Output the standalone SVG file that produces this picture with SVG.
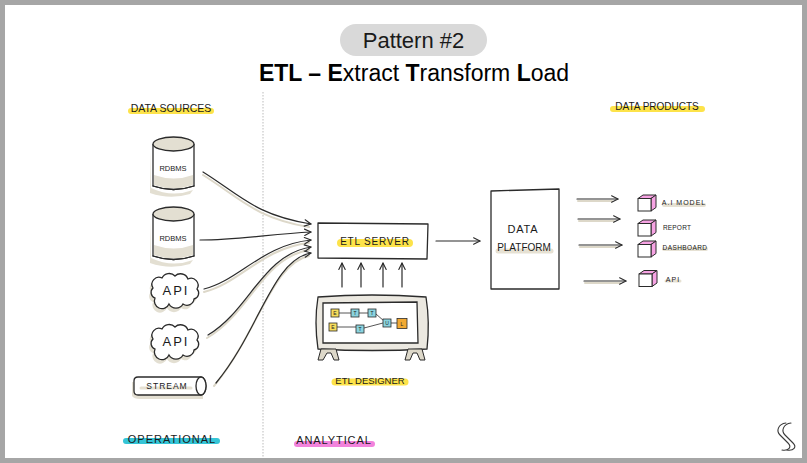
<svg xmlns="http://www.w3.org/2000/svg" width="807" height="463" viewBox="0 0 807 463">
  <style>
    .ink { fill: none; stroke: #2b2b2b; stroke-width: 1.3; stroke-linecap: round; stroke-linejoin: round; }
    .shade { fill: #e3dfd2; stroke: none; }
    .hand { font-family: "Liberation Sans", "DejaVu Sans", sans-serif; fill: #1a1a1a; text-anchor: middle; }
    .hl { fill: none; stroke-linecap: round; }
    .yellow { stroke: #fde34a; }
    .beige { stroke: #e6e1d3; }
    .conn { fill: none; stroke: #2b2b2b; stroke-width: 1.2; stroke-linecap: round; }
    .connshade { fill: none; stroke: #ddd8c9; stroke-width: 2; stroke-linecap: round; }
    .cubeface { fill: #f6a3e3; stroke: #2b2b2b; stroke-width: 1; stroke-linejoin: round; }
    .cubefront { fill: #ffffff; stroke: #2b2b2b; stroke-width: 1; }
    .snode { stroke: #2b2b2b; stroke-width: 0.8; }
    .slabel { font-family: "Liberation Sans", sans-serif; font-size: 5px; fill: #222; text-anchor: middle; }
  </style>
  <defs>
    <marker id="head" viewBox="0 0 10 10" refX="9" refY="5" markerWidth="8" markerHeight="8" markerUnits="userSpaceOnUse" orient="auto">
      <path d="M1,1 L9,5 L1,9" fill="none" stroke="#2b2b2b" stroke-width="1.4" stroke-linecap="round" stroke-linejoin="round"/>
    </marker>
  </defs>

  <!-- page frame -->
  <rect x="0" y="0" width="807" height="463" fill="#ffffff"/>
  <rect x="2.5" y="2.5" width="802" height="458" fill="none" stroke="#a6a6a6" stroke-width="5"/>

  <!-- heading -->
  <g id="heading">
    <rect x="340" y="24" width="147" height="32" rx="16" fill="#d9d9d9"/>
    <text x="413.5" y="48" font-family="Liberation Sans, sans-serif" font-size="22" fill="#1a1a1a" text-anchor="middle">Pattern #2</text>
    <text x="414" y="81" font-family="Liberation Sans, sans-serif" font-size="23" fill="#000" text-anchor="middle"><tspan font-weight="bold">ETL – E</tspan>xtract <tspan font-weight="bold">T</tspan>ransform <tspan font-weight="bold">L</tspan>oad</text>
  </g>

  <!-- divider between operational and analytical sides -->
  <line x1="263" y1="92" x2="263" y2="458" stroke="#d2d2d2" stroke-width="1.5" stroke-dasharray="1.5 1.5"/>

  <!-- section labels -->
  <g id="label-data-sources">
    <line class="hl yellow" x1="131" y1="111" x2="211" y2="111" stroke-width="6"/>
    <text class="hand" x="171" y="112" font-size="10.5">DATA SOURCES</text>
  </g>
  <g id="label-data-products">
    <line class="hl yellow" x1="613" y1="109" x2="702" y2="109" stroke-width="6"/>
    <text class="hand" x="657" y="110" font-size="10">DATA PRODUCTS</text>
  </g>
  <g id="label-operational">
    <line class="hl" stroke="#35c5d7" x1="126" y1="441" x2="217" y2="441" stroke-width="6"/>
    <text class="hand" x="172" y="443" font-size="11" letter-spacing="1">OPERATIONAL</text>
  </g>
  <g id="label-analytical">
    <line class="hl" stroke="#f283dc" x1="297" y1="444" x2="372" y2="444" stroke-width="6"/>
    <text class="hand" x="334" y="444" font-size="11" letter-spacing="0.9">ANALYTICAL</text>
  </g>

  <!-- sources -->
  <g id="rdbms-1">
    <path class="shade" d="M151,150 L151,188 Q172,198 193,190 L190,194 Q170,200 150,193 Z"/>
    <path d="M153,144 L153,186 Q173.5,193 194,186 L194,144" fill="#ffffff" stroke="#2b2b2b" stroke-width="1.3"/>
    <path class="shade" d="M154,175 Q174,182 193,175 L193,185 Q173.5,192 154,185 Z"/>
    <path class="ink" d="M153,186 Q173.5,193 194,186"/>
    <ellipse cx="173.5" cy="144" rx="20.5" ry="7" fill="#e3dfd2" stroke="#2b2b2b" stroke-width="1.3"/>
    <text class="hand" x="173" y="171" font-size="7.5">RDBMS</text>
  </g>
  <g id="rdbms-2">
    <path class="shade" d="M151,220 L151,258 Q172,268 193,260 L190,264 Q170,270 150,263 Z"/>
    <path d="M153,214 L153,256 Q173.5,263 194,256 L194,214" fill="#ffffff" stroke="#2b2b2b" stroke-width="1.3"/>
    <path class="shade" d="M154,245 Q174,252 193,245 L193,255 Q173.5,262 154,255 Z"/>
    <path class="ink" d="M153,256 Q173.5,263 194,256"/>
    <ellipse cx="173.5" cy="214" rx="20.5" ry="7" fill="#e3dfd2" stroke="#2b2b2b" stroke-width="1.3"/>
    <text class="hand" x="173" y="241" font-size="7.5">RDBMS</text>
  </g>
  <g id="api-1">
    <path class="shade" transform="translate(-2,4)" d="M155,298 a6,6 0 0 1 -2,-10 a7,7 0 0 1 9,-10 a8,8 0 0 1 13,-2 a8,8 0 0 1 13,3 a7,7 0 0 1 9,10 a6,6 0 0 1 -3,10 a7,7 0 0 1 -11,5 a8,8 0 0 1 -14,0 a7,7 0 0 1 -14,-6 Z"/>
    <path d="M155,298 a6,6 0 0 1 -2,-10 a7,7 0 0 1 9,-10 a8,8 0 0 1 13,-2 a8,8 0 0 1 13,3 a7,7 0 0 1 9,10 a6,6 0 0 1 -3,10 a7,7 0 0 1 -11,5 a8,8 0 0 1 -14,0 a7,7 0 0 1 -14,-6 Z" fill="#ffffff" stroke="#2b2b2b" stroke-width="1.3"/>
    <text class="hand" x="176" y="295" font-size="13" letter-spacing="2">API</text>
  </g>
  <g id="api-2">
    <path class="shade" transform="translate(-2,4)" d="M155,349 a6,6 0 0 1 -2,-10 a7,7 0 0 1 9,-10 a8,8 0 0 1 13,-2 a8,8 0 0 1 13,3 a7,7 0 0 1 9,10 a6,6 0 0 1 -3,10 a7,7 0 0 1 -11,5 a8,8 0 0 1 -14,0 a7,7 0 0 1 -14,-6 Z"/>
    <path d="M155,349 a6,6 0 0 1 -2,-10 a7,7 0 0 1 9,-10 a8,8 0 0 1 13,-2 a8,8 0 0 1 13,3 a7,7 0 0 1 9,10 a6,6 0 0 1 -3,10 a7,7 0 0 1 -11,5 a8,8 0 0 1 -14,0 a7,7 0 0 1 -14,-6 Z" fill="#ffffff" stroke="#2b2b2b" stroke-width="1.3"/>
    <text class="hand" x="176" y="346" font-size="13" letter-spacing="2">API</text>
  </g>
  <g id="stream">
    <path class="shade" d="M132,382 L132,396 Q134,399 140,399 L203,399 L203,393 Z"/>
    <path d="M138,377 H201 A5,9 0 0 1 201,395 H138 Q134,395 134,391 V381 Q134,377 138,377 Z" fill="#ffffff" stroke="#2b2b2b" stroke-width="1.3"/>
    <ellipse cx="201" cy="386" rx="5" ry="9" fill="#ffffff" stroke="#2b2b2b" stroke-width="1.3"/>
    <line class="hl beige" x1="141" y1="388" x2="191" y2="388" stroke-width="3"/>
    <text class="hand" x="167" y="389" font-size="8.5" letter-spacing="1">STREAM</text>
  </g>

  <!-- processing -->
  <g id="etl-server">
    <path d="M318,223 L428,224 L427,259 L318,258 Z" fill="#ffffff" stroke="#2b2b2b" stroke-width="1.3" stroke-linejoin="round"/>
    <line class="hl yellow" x1="341" y1="243" x2="409" y2="243" stroke-width="8"/>
    <text class="hand" x="375" y="245" font-size="10" letter-spacing="0.8">ETL SERVER</text>
  </g>
  <g id="etl-designer">
    <path d="M318,297 Q372,293 426,297 Q430,322 427,349 Q372,352 318,349 Q314,322 318,297 Z" fill="#ebe8e0" stroke="#2b2b2b" stroke-width="1.3"/>
    <path d="M323,303 L417,302 L418,343 L323,343 Z" fill="#ffffff" stroke="#2b2b2b" stroke-width="1.3"/>
    <path d="M321,349 L318,360 L323,360 L327,353 L331,353 L334,360 L339,360 L336,349 Z" fill="#ddd8c9" stroke="#2b2b2b" stroke-width="1"/>
    <path d="M408,349 L405,360 L410,360 L413,353 L417,353 L420,360 L425,360 L422,349 Z" fill="#ddd8c9" stroke="#2b2b2b" stroke-width="1"/>
    <g stroke="#2b2b2b" stroke-width="0.8" fill="none">
      <path d="M339,313 H351 M359,313 H368 M376,314 L384,321 M391,323 H397 M337,327 H356 M364,328 L383,323"/>
    </g>
    <rect class="snode" x="331" y="309" width="8" height="8" fill="#f7dd5c"/>
    <rect class="snode" x="351" y="309" width="8" height="8" fill="#8ad4df"/>
    <rect class="snode" x="368" y="309" width="8" height="8" fill="#8ad4df"/>
    <rect class="snode" x="383" y="319" width="8" height="8" fill="#8ad4df"/>
    <rect class="snode" x="397" y="318.5" width="10" height="10" fill="#f2aa34"/>
    <rect class="snode" x="329" y="323" width="8" height="8" fill="#f7dd5c"/>
    <rect class="snode" x="356" y="325" width="8" height="8" fill="#8ad4df"/>
    <text class="slabel" x="335" y="315">E</text>
    <text class="slabel" x="355" y="315">T</text>
    <text class="slabel" x="372" y="315">T</text>
    <text class="slabel" x="387" y="325">U</text>
    <text class="slabel" x="402" y="325.5">L</text>
    <text class="slabel" x="333" y="329">E</text>
    <text class="slabel" x="360" y="331">T</text>
    <line class="hl yellow" x1="335" y1="382" x2="405" y2="382" stroke-width="7"/>
    <text class="hand" x="370" y="384" font-size="9.5">ETL DESIGNER</text>
  </g>
  <g id="data-platform">
    <path d="M491,191 L559,189 L559,289 L491,289 Z" fill="#ffffff" stroke="#2b2b2b" stroke-width="1.3" stroke-linejoin="round"/>
    <line class="hl beige" x1="498" y1="251" x2="551" y2="251" stroke-width="5"/>
    <text class="hand" x="523" y="233" font-size="11" letter-spacing="0.8">DATA</text>
    <text class="hand" x="524" y="251" font-size="10">PLATFORM</text>
  </g>

  <!-- data products -->
  <g id="product-ai-model">
    <path class="cubeface" d="M638,198.5 L643,195 L656,195 L651,198.5 Z"/>
    <path class="cubeface" d="M651,198.5 L656,195 L656,207.5 L651,211 Z"/>
    <rect class="cubefront" x="638" y="198.5" width="13" height="12.5"/>
    <line class="hl beige" x1="664" y1="205" x2="704" y2="205" stroke-width="4"/>
    <text class="hand" x="684" y="205" font-size="7" letter-spacing="1">A.I MODEL</text>
  </g>
  <g id="product-report">
    <path class="cubeface" d="M638,223.5 L643,220 L656,220 L651,223.5 Z"/>
    <path class="cubeface" d="M651,223.5 L656,220 L656,232.5 L651,236 Z"/>
    <rect class="cubefront" x="638" y="223.5" width="13" height="12.5"/>
    <text class="hand" x="677" y="230" font-size="6.5" letter-spacing="0.2">REPORT</text>
  </g>
  <g id="product-dashboard">
    <path class="cubeface" d="M638,244.5 L643,241 L656,241 L651,244.5 Z"/>
    <path class="cubeface" d="M651,244.5 L656,241 L656,253.5 L651,257 Z"/>
    <rect class="cubefront" x="638" y="244.5" width="13" height="12.5"/>
    <line class="hl beige" x1="664" y1="249" x2="706" y2="249" stroke-width="4"/>
    <text class="hand" x="685" y="249.5" font-size="6.5" letter-spacing="0.4">DASHBOARD</text>
  </g>
  <g id="product-api">
    <path class="cubeface" d="M639,274 L644,270.5 L657,270.5 L652,274 Z"/>
    <path class="cubeface" d="M652,274 L657,270.5 L657,283 L652,286.5 Z"/>
    <rect class="cubefront" x="639" y="274" width="13" height="12.5"/>
    <line class="hl beige" x1="666" y1="281" x2="680" y2="281" stroke-width="3"/>
    <text class="hand" x="673" y="281.5" font-size="7" letter-spacing="1">API</text>
  </g>

  <!-- brand mark -->
  <g id="brand-mark" fill="none" stroke="#3a3a3a" stroke-width="1.1" stroke-linecap="round">
    <path d="M786,423 C778,424 776,431 780,435 L788,443 C792,447 789,451 782,450"/>
    <path d="M791,423 C783,424 781,431 785,435 L793,443 C797,447 794,451 787,450"/>
  </g>

  <!-- connectors -->
  <g id="connectors">
    <path class="connshade" d="M203,175 C240,198 255,218 309,227"/>
    <path class="connshade" d="M204,292 C240,283 262,248 309,243"/>
    <path class="connshade" d="M207,338 C250,313 262,258 309,250"/>
    <path class="connshade" d="M214,386 C258,333 272,263 309,256"/>
    <path class="conn" marker-end="url(#head)" d="M203,172 C240,195 255,215 311,224"/>
    <path class="conn" marker-end="url(#head)" d="M200,240 C240,240 270,234 311,232"/>
    <path class="conn" marker-end="url(#head)" d="M204,289 C240,280 262,245 311,240"/>
    <path class="conn" marker-end="url(#head)" d="M208,335 C250,310 262,255 311,247"/>
    <path class="conn" marker-end="url(#head)" d="M216,383 C260,330 272,260 311,253"/>

    <path class="conn" marker-end="url(#head)" d="M342,287 V263"/>
    <path class="conn" marker-end="url(#head)" d="M361,287 V263"/>
    <path class="conn" marker-end="url(#head)" d="M383,287 V263"/>
    <path class="conn" marker-end="url(#head)" d="M402,287 V263"/>

    <path class="conn" marker-end="url(#head)" d="M436,241 H480"/>

    <path class="connshade" d="M578,201 H612"/>
    <path class="connshade" d="M579,221 H614"/>
    <path class="connshade" d="M580,247 H616"/>
    <path class="connshade" d="M585,283 H620"/>
    <path class="conn" marker-end="url(#head)" d="M577,199 H618"/>
    <path class="conn" marker-end="url(#head)" d="M578,219 H620"/>
    <path class="conn" marker-end="url(#head)" d="M579,245 H622"/>
    <path class="conn" marker-end="url(#head)" d="M584,281 H626"/>
  </g>
</svg>
